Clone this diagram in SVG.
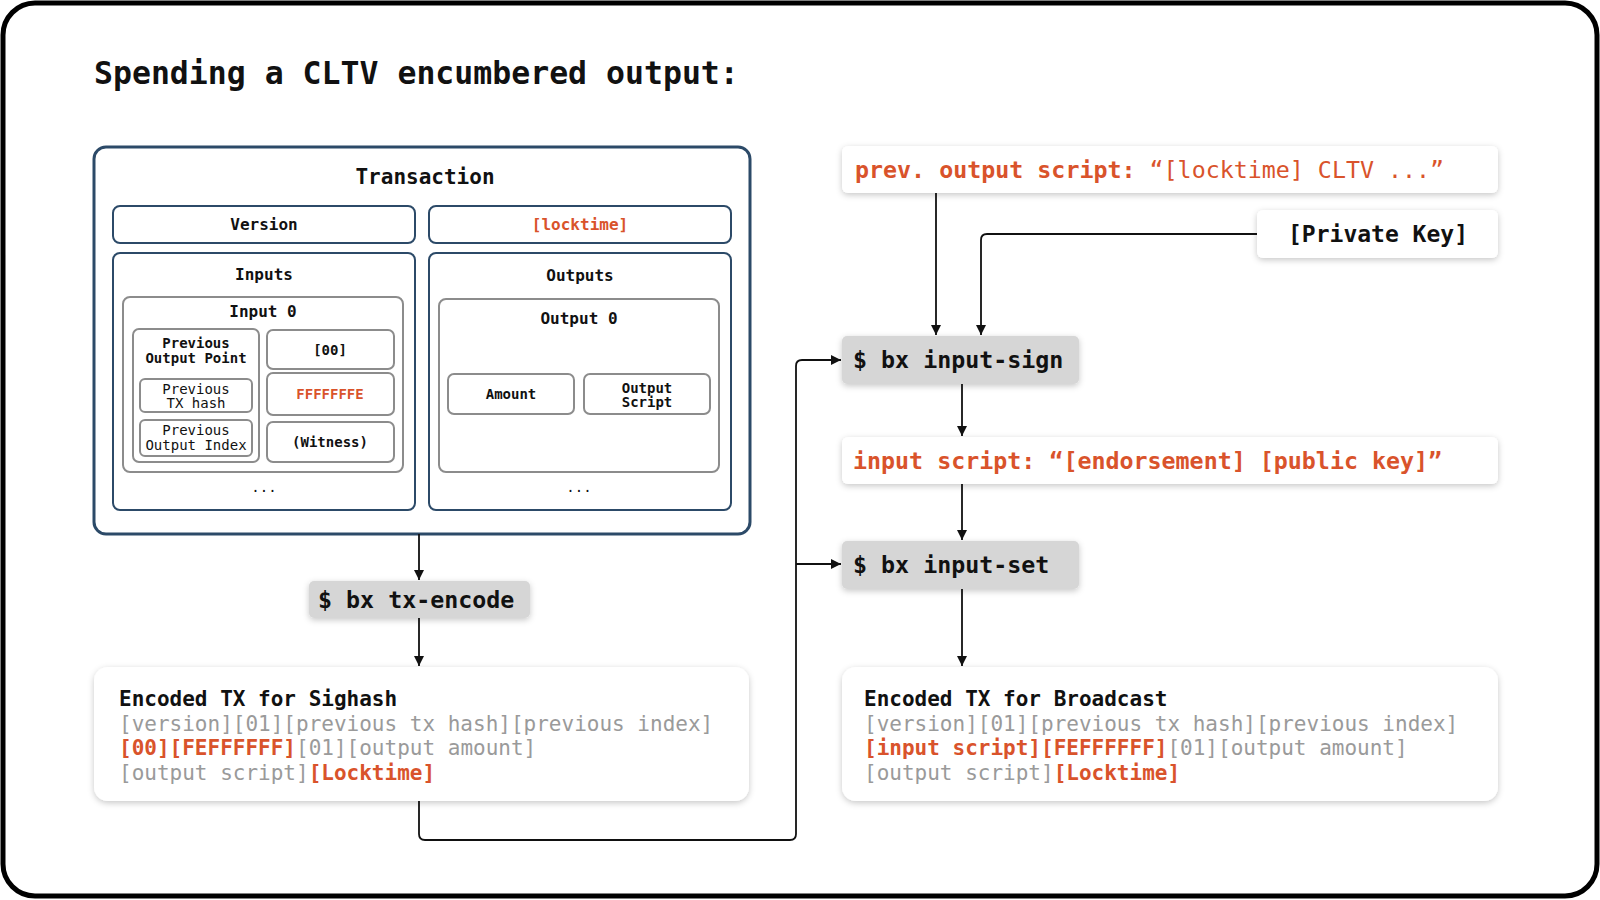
<svg xmlns="http://www.w3.org/2000/svg" width="1600" height="900" viewBox="0 0 1600 900">
<style>
text{font-family:"DejaVu Sans Mono","Liberation Mono",monospace;fill:#111}
.b{font-weight:700}
.c{text-anchor:middle}
.or{fill:#d9532b}
.gr{fill:#9a9a9a}
.tx{fill:#fff;stroke:#2c4a68;stroke-width:3}
.blue{fill:#fff;stroke:#2c4a68;stroke-width:2}
.gbox{fill:#fff;stroke:#8c8c8c;stroke-width:2}
.card{fill:#fff;filter:url(#sh)}
.cmd{fill:#d6d6d6;filter:url(#sh)}
.conn{fill:none;stroke:#111;stroke-width:1.8;marker-end:url(#ah)}
</style>
<defs>
<filter id="sh" x="-10%" y="-30%" width="120%" height="170%">
<feDropShadow dx="0" dy="2" stdDeviation="3" flood-color="#000" flood-opacity="0.22"/>
</filter>
<marker id="ah" markerWidth="10" markerHeight="12" refX="10" refY="5" orient="auto" markerUnits="userSpaceOnUse">
<path d="M0,0 L10,5 L0,10 z" fill="#111"/>
</marker>
</defs>
<rect x="3" y="3" width="1594" height="893" rx="32" fill="#fff" stroke="#000" stroke-width="5"/>
<text id="title" x="94" y="84" class="b" font-size="31.5">Spending a CLTV encumbered output:</text>

<g id="transaction">
<rect class="tx" x="94" y="147" width="656" height="387" rx="12"/>
<text x="425" y="184" class="b c" font-size="21">Transaction</text>
</g>
<g id="version">
<rect class="blue" x="113" y="206" width="302" height="37" rx="7"/>
<text x="264" y="230" class="b c" font-size="16">Version</text>
</g>
<g id="locktime">
<rect class="blue" x="429" y="206" width="302" height="37" rx="7"/>
<text x="580" y="230" class="b c or" font-size="16">[locktime]</text>
</g>
<g id="inputs">
<rect class="blue" x="113" y="253" width="302" height="257" rx="7"/>
<text x="264" y="280" class="b c" font-size="16">Inputs</text>
<text x="264" y="492" class="c" font-size="14">...</text>
</g>
<g id="input0">
<rect class="gbox" x="123" y="297" width="280" height="175" rx="7"/>
<text x="263" y="317" class="b c" font-size="16">Input 0</text>
</g>
<g id="prevOutPoint">
<rect class="gbox" x="133" y="329" width="126" height="133" rx="6"/>
<text x="196" y="348" class="b c" font-size="14">Previous</text>
<text x="196" y="363" class="b c" font-size="14">Output Point</text>
</g>
<g id="prevTxHash">
<rect class="gbox" x="140" y="379" width="112" height="33" rx="5" stroke-width="1.5"/>
<text x="196" y="394" class="c" font-size="14">Previous</text>
<text x="196" y="408" class="c" font-size="14">TX hash</text>
</g>
<g id="prevOutIndex">
<rect class="gbox" x="140" y="420" width="112" height="36" rx="5" stroke-width="1.5"/>
<text x="196" y="435" class="c" font-size="14">Previous</text>
<text x="196" y="450" class="c" font-size="14">Output Index</text>
</g>
<g id="scriptLen">
<rect class="gbox" x="267" y="330" width="127" height="39" rx="6"/>
<text x="330" y="355" class="b c" font-size="14">[00]</text>
</g>
<g id="sequence">
<rect class="gbox" x="267" y="373" width="127" height="42" rx="6"/>
<text x="330" y="399" class="b c or" font-size="14">FFFFFFFE</text>
</g>
<g id="witness">
<rect class="gbox" x="267" y="422" width="127" height="40" rx="6"/>
<text x="330" y="447" class="b c" font-size="14">(Witness)</text>
</g>
<g id="outputs">
<rect class="blue" x="429" y="253" width="302" height="257" rx="7"/>
<text x="580" y="281" class="b c" font-size="16">Outputs</text>
<text x="579" y="492" class="c" font-size="14">...</text>
</g>
<g id="output0">
<rect class="gbox" x="439" y="299" width="280" height="173" rx="7"/>
<text x="579" y="324" class="b c" font-size="16">Output 0</text>
</g>
<g id="amount">
<rect class="gbox" x="448" y="374" width="126" height="40" rx="6"/>
<text x="511" y="399" class="b c" font-size="14">Amount</text>
</g>
<g id="outputScript">
<rect class="gbox" x="584" y="374" width="126" height="40" rx="6"/>
<text x="647" y="393" class="b c" font-size="14">Output</text>
<text x="647" y="407" class="b c" font-size="14">Script</text>
</g>

<g id="txEncode">
<rect class="cmd" x="309" y="581" width="221" height="37" rx="5"/>
<text x="318" y="608" class="b" font-size="23.3">$ bx tx-encode</text>
</g>
<g id="sighashTx">
<rect class="card" x="94" y="667" width="655" height="134" rx="14"/>
<text x="119" y="706" class="b" font-size="21">Encoded TX for Sighash</text>
<text x="119" y="731" class="gr" font-size="21">[version][01][previous tx hash][previous index]</text>
<text x="119" y="755" class="gr" font-size="21"><tspan class="b or">[00][FEFFFFFF]</tspan>[01][output amount]</text>
<text x="119" y="780" class="gr" font-size="21">[output script]<tspan class="b or">[Locktime]</tspan></text>
</g>

<g id="prevOutputScript">
<rect class="card" x="842" y="146" width="656" height="47" rx="6"/>
<text x="855" y="178" class="or" font-size="23.3"><tspan class="b">prev. output script:</tspan> “[locktime] CLTV ...”</text>
</g>
<g id="privateKey">
<rect class="card" x="1257" y="210" width="241" height="48" rx="6"/>
<text x="1288" y="242" class="b" font-size="23">[Private Key]</text>
</g>
<g id="inputSign">
<rect class="cmd" x="842" y="336" width="237" height="48" rx="5"/>
<text x="853" y="368" class="b" font-size="23.3">$ bx input-sign</text>
</g>
<g id="inputScript">
<rect class="card" x="842" y="437" width="656" height="47" rx="6"/>
<text x="853" y="469" class="b or" font-size="23.3">input script: “[endorsement] [public key]”</text>
</g>
<g id="inputSet">
<rect class="cmd" x="842" y="541" width="237" height="48" rx="5"/>
<text x="853" y="573" class="b" font-size="23.3">$ bx input-set</text>
</g>
<g id="broadcastTx">
<rect class="card" x="842" y="667" width="656" height="134" rx="14"/>
<text x="864" y="706" class="b" font-size="21">Encoded TX for Broadcast</text>
<text x="864" y="731" class="gr" font-size="21">[version][01][previous tx hash][previous index]</text>
<text x="864" y="755" class="gr" font-size="21"><tspan class="b or">[input script][FEFFFFFF]</tspan>[01][output amount]</text>
<text x="864" y="780" class="gr" font-size="21">[output script]<tspan class="b or">[Locktime]</tspan></text>
</g>

<g id="connectors">
<path class="conn" d="M419 534 V580"/>
<path class="conn" d="M419 618 V666"/>
<path class="conn" d="M419 801 V834 Q419 840 425 840 H790 Q796 840 796 834 V366 Q796 360 802 360 H841"/>
<path class="conn" d="M796 564 H841"/>
<path class="conn" d="M936 193 V335"/>
<path class="conn" d="M1257 234 H987 Q981 234 981 240 V335"/>
<path class="conn" d="M962 384 V436"/>
<path class="conn" d="M962 484 V540"/>
<path class="conn" d="M962 589 V666"/>
</g>
</svg>
